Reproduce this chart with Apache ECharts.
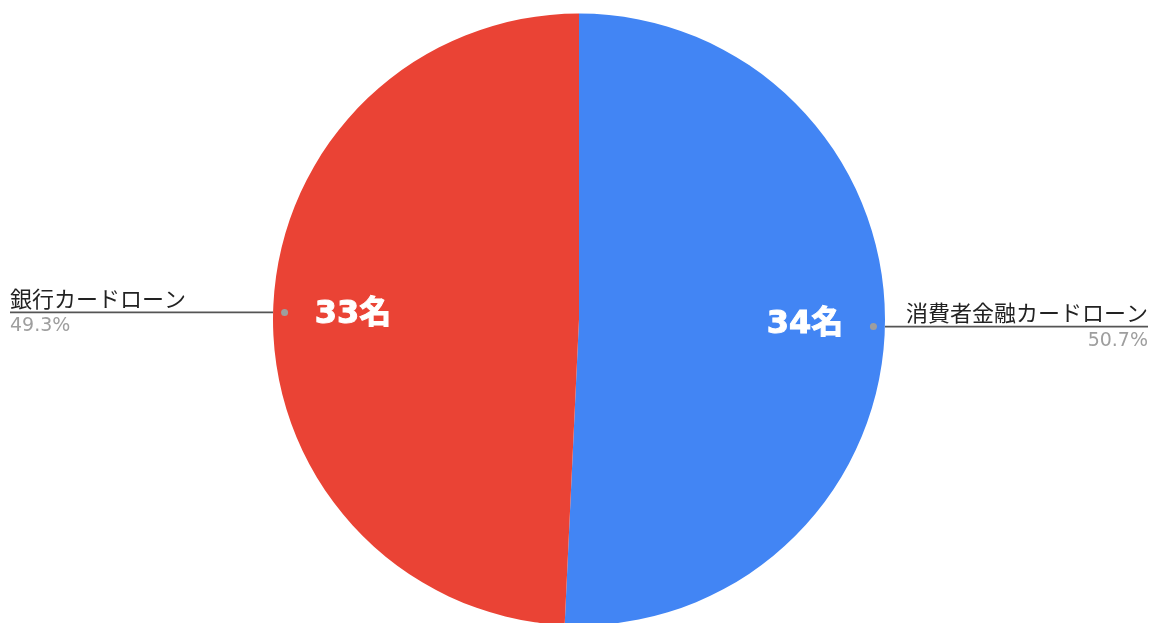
<!DOCTYPE html>
<html>
<head>
<meta charset="utf-8">
<script src="https://cdn.jsdelivr.net/npm/echarts@6/dist/echarts.min.js"></script>
<style>
  html, body { margin: 0; padding: 0; background: #fff; }
  #chart { width: 1158px; height: 623px; }
</style>
</head>
<body>
<div id="chart"></div>
<script>
// data
const categories = ['消費者金融カードローン', '銀行カードローン'];
const counts = [34, 33];
const countLabels = ['34名', '33名'];

const colors = ['#4285F4', '#EA4335'];
const CENTER = [579, 319.5];
const R = 306;

const chart = echarts.init(document.getElementById('chart'), null, { renderer: 'canvas' });

const pieData = categories.map((name, i) => ({
  name: name,
  value: counts[i],
  itemStyle: { color: colors[i] }
}));

// same slices, but only used to place labels / dots
const ghostData = categories.map((name, i) => ({ name: name, value: counts[i] }));

const option = {
  backgroundColor: '#fff',
  animation: false,
  series: [
    {
      type: 'pie',
      center: CENTER,
      radius: [0, R],
      startAngle: 90,
      clockwise: true,
      percentPrecision: 1,
      silent: true,
      itemStyle: { borderWidth: 0 },
      data: pieData,
      label: {
        show: true,
        position: 'outside',
        alignTo: 'edge',
        edgeDistance: 10,
        formatter: '{name|{b}}\n{pct|{d}%}',
        rich: {
          name: {
            fontSize: 22,
            lineHeight: 28,
            color: '#222',
            fontFamily: "'Noto Sans CJK JP', sans-serif"
          },
          pct: {
            fontSize: 19,
            lineHeight: 28,
            color: '#9e9e9e',
            fontFamily: "'DejaVu Sans', sans-serif"
          }
        }
      },
      labelLine: {
        show: true,
        length: 0,
        length2: 0,
        lineStyle: { color: '#555', width: 1.6 }
      },
      labelLayout: function (params) {
        const isLeft = params.labelRect.x < chart.getWidth() / 2;
        const points = params.labelLinePoints;
        points[2][0] = isLeft
          ? params.labelRect.x
          : params.labelRect.x + params.labelRect.width;
        return { labelLinePoints: points };
      }
    },
    {
      // inner count labels
      type: 'pie',
      center: CENTER,
      radius: [140, R],
      startAngle: 90,
      clockwise: true,
      silent: true,
      itemStyle: { color: 'transparent' },
      data: ghostData,
      label: {
        show: true,
        position: 'inside',
        formatter: function (p) { return countLabels[p.dataIndex]; },
        color: '#fff',
        fontSize: 32,
        fontWeight: 'bold',
        textBorderColor: '#fff',
        textBorderWidth: 1,
        fontFamily: "'DejaVu Sans', 'Noto Sans CJK JP', sans-serif"
      },
      labelLine: { show: false }
    },
    {
      // small gray dot where the leader line starts
      type: 'pie',
      center: CENTER,
      radius: [288, 295],
      startAngle: 90,
      clockwise: true,
      silent: true,
      itemStyle: { color: 'transparent' },
      data: ghostData,
      label: {
        show: true,
        position: 'inside',
        formatter: '{dot|}',
        rich: {
          dot: { width: 7, height: 7, borderRadius: 3.5, backgroundColor: '#9e9e9e' }
        }
      },
      labelLine: { show: false }
    }
  ]
};

chart.setOption(option);
</script>
</body>
</html>
